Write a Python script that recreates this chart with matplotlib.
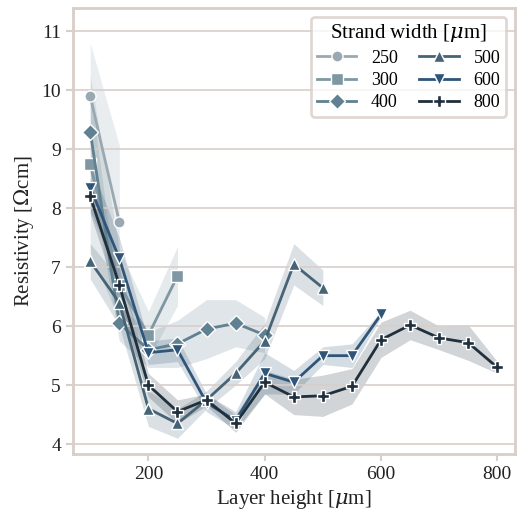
import matplotlib
matplotlib.use("Agg")
import matplotlib.pyplot as plt
import numpy as np

plt.rcParams['font.family'] = ['Liberation Serif', 'DejaVu Serif']
plt.rcParams['mathtext.fontset'] = 'dejavuserif'

widths = ["250", "300", "400", "500", "600", "800"]
x250 = [100, 150]; y250 = [9.9, 7.77]; e250 = [0.9, 1.3]
x300 = [100, 150, 200, 250]; y300 = [8.75, 6.7, 5.85, 6.85]; e300 = [1.5, 0.6, 0.4, 0.5]
x400 = [100, 150, 200, 250, 300, 350, 400]; y400 = [9.3, 6.05, 5.6, 5.7, 5.95, 6.05, 5.85]; e400 = [0.7, 0.3, 0.3, 0.4, 0.5, 0.4, 0.3]
x500 = [100, 150, 200, 250, 300, 350, 400, 450, 500]; y500 = [7.1, 6.4, 4.6, 4.35, 4.75, 5.2, 5.75, 7.05, 6.65]; e500 = [0.3, 0.4, 0.3, 0.25, 0.15, 0.2, 0.3, 0.35, 0.3]
x600 = [100, 150, 200, 250, 300, 350, 400, 450, 500, 550, 600]; y600 = [8.35, 7.15, 5.55, 5.6, 4.7, 4.4, 5.2, 5.05, 5.5, 5.5, 6.2]; e600 = [0.4, 0.35, 0.2, 0.2, 0.15, 0.15, 0.35, 0.2, 0.15, 0.2, 0.05]
x800 = [100, 150, 200, 250, 300, 350, 400, 450, 500, 550, 600, 650, 700, 750, 800]; y800 = [8.2, 6.7, 5.0, 4.55, 4.75, 4.35, 5.05, 4.8, 4.82, 4.98, 5.77, 6.02, 5.8, 5.72, 5.3]; e800 = [0.3, 0.3, 0.2, 0.2, 0.1, 0.15, 0.2, 0.3, 0.35, 0.3, 0.3, 0.25, 0.2, 0.3, 0.1]

series = [(x250, y250, e250), (x300, y300, e300), (x400, y400, e400),
          (x500, y500, e500), (x600, y600, e600), (x800, y800, e800)]
colors = ['#9aa9b1', '#7f97a3', '#5f8191', '#466476', '#2f5578', '#1f2f3c']
markers = ['o', 's', 'D', '^', 'v', 'P']
msizes = [8, 8, 8, 8, 8, 9]

fig, ax = plt.subplots(figsize=(5.2, 5.19), dpi=100)
fig.subplots_adjust(left=0.14, right=0.99, top=0.985, bottom=0.125)
for (x, y, e), c, m, ms, lab in zip(series, colors, markers, msizes, widths):
    x = np.array(x); y = np.array(y); e = np.array(e)
    ax.fill_between(x, y - e, y + e, color=c, alpha=0.2, lw=0)
    if m == 'P':
        ax.plot(x, y, color=c, lw=2, marker='P', ms=ms, mec='white', mew=1.0, label=lab)
    else:
        ax.plot(x, y, color=c, lw=2, marker=m, ms=ms, mec='white', mew=1.0, label=lab)

ax.set_xlim(70, 830)
ax.set_ylim(3.83, 11.4)
ax.set_xticks([200, 400, 600, 800])
ax.set_yticks(range(4, 12))
ax.grid(axis='y', color='#d8ceca', lw=1.2)
for s in ax.spines.values():
    s.set_color('#d8ceca'); s.set_linewidth(2)
ax.tick_params(colors='#d8ceca', labelcolor='#222222', labelsize=14, length=5, width=1.5)
ax.set_xlabel(r'Layer height [$\mu$m]', fontsize=15, color='#222222')
ax.set_ylabel(r'Resistivity [$\Omega$cm]', fontsize=15, color='#222222')
leg = ax.legend(title=r'Strand width [$\mu$m]', ncol=2, fontsize=13, title_fontsize=15,
                loc='upper right', frameon=True, edgecolor='#d8ceca', handlelength=2.2,
                columnspacing=1.2, borderpad=0.3, labelspacing=0.3, fancybox=True)
leg.get_frame().set_linewidth(2)
fig.savefig('out.png', dpi=100)
